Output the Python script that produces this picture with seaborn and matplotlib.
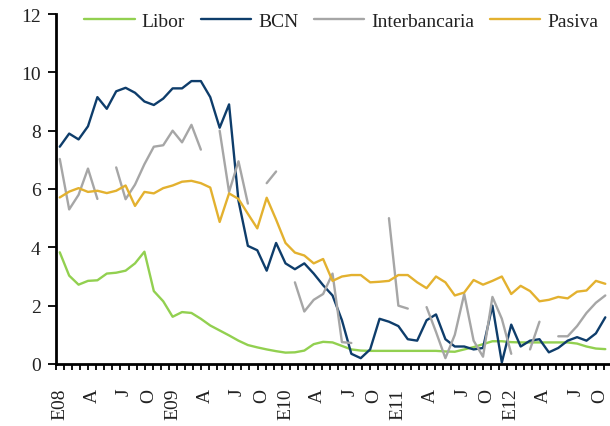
import numpy as np
import pandas as pd
import matplotlib
matplotlib.use("Agg")
import matplotlib.pyplot as plt
from matplotlib.lines import Line2D
import seaborn as sns

# ---------------- data (monthly, Jan 2008 .. Nov 2012) ----------------
months = list(range(59))
nan = np.nan

libor = [3.83, 3.03, 2.72, 2.85, 2.87, 3.10, 3.13, 3.20, 3.45, 3.85,
         2.50, 2.15, 1.62, 1.78, 1.75, 1.55, 1.32, 1.15, 0.98, 0.80,
         0.65, 0.57, 0.50, 0.44, 0.39, 0.40, 0.46, 0.68, 0.76, 0.74,
         0.62, 0.50, 0.46, 0.45, 0.45, 0.45, 0.45, 0.45, 0.45, 0.45,
         0.45, 0.43, 0.42, 0.50, 0.58, 0.68, 0.78, 0.78, 0.75, 0.74,
         0.74, 0.74, 0.74, 0.74, 0.74, 0.70, 0.60, 0.53, 0.51]

bcn = [7.45, 7.90, 7.70, 8.15, 9.15, 8.75, 9.35, 9.47, 9.30, 9.00,
       8.88, 9.10, 9.45, 9.45, 9.70, 9.70, 9.15, 8.10, 8.90, 5.60,
       4.05, 3.90, 3.20, 4.15, 3.45, 3.25, 3.45, 3.10, 2.70, 2.35,
       1.50, 0.35, 0.20, 0.50, 1.55, 1.45, 1.30, 0.85, 0.80, 1.50,
       1.70, 0.85, 0.60, 0.60, 0.50, 0.55, 2.00, 0.05, 1.35, 0.60,
       0.80, 0.85, 0.40, 0.55, 0.80, 0.92, 0.80, 1.05, 1.60]

interbancaria = [7.03, 5.30, 5.80, 6.70, 5.66, nan, 6.74, 5.65, 6.15, 6.85,
                 7.45, 7.50, 8.00, 7.60, 8.20, 7.35, nan, 8.00, 5.90, 6.95,
                 5.50, nan, 6.20, 6.60, nan, 2.80, 1.80, 2.20, 2.40, 3.10,
                 0.75, 0.72, nan, nan, nan, 5.00, 2.00, 1.90, nan, 1.95,
                 1.10, 0.20, 1.00, 2.40, 0.80, 0.25, 2.30, 1.55, 0.35, nan,
                 0.50, 1.45, nan, 0.95, 0.95, 1.30, 1.75, 2.10, 2.35]

pasiva = [5.71, 5.91, 6.03, 5.90, 5.94, 5.86, 5.94, 6.12, 5.42, 5.90,
          5.85, 6.03, 6.12, 6.25, 6.28, 6.20, 6.05, 4.87, 5.85, 5.66,
          5.15, 4.65, 5.70, 4.95, 4.15, 3.82, 3.72, 3.45, 3.60, 2.85,
          3.00, 3.05, 3.05, 2.80, 2.82, 2.85, 3.05, 3.05, 2.80, 2.60,
          3.00, 2.80, 2.35, 2.45, 2.88, 2.72, 2.85, 3.00, 2.40, 2.68,
          2.50, 2.15, 2.20, 2.30, 2.25, 2.48, 2.52, 2.85, 2.75]

series_names = ["Libor", "BCN", "Interbancaria", "Pasiva"]
series_colors = ["#92D050", "#0E3D6B", "#A6A6A6", "#E3B12F"]

year_labels = ["E08", "E09", "E10", "E11", "E12"]
quarter_labels = ["A", "J", "O"]
# label positions inside each year (reference axis has 14 category slots/year)
label_slots = [0, 4, 8, 11]

# ---------------- build long table with gap-aware segments ----------------
rows = []
for name, vals in zip(series_names, [libor, bcn, interbancaria, pasiva]):
    seg = 0
    prev_nan = True
    for m, v in zip(months, vals):
        if np.isnan(v):
            prev_nan = True
            continue
        if prev_nan:
            seg += 1
        prev_nan = False
        rows.append({"mes": m, "valor": v, "serie": name, "tramo": f"{name}-{seg}"})
df = pd.DataFrame(rows)

sns.set_theme(style="white")
plt.rcParams["font.family"] = ["Liberation Serif", "DejaVu Serif"]

fig = plt.figure(figsize=(6.10, 4.27), dpi=100)
ax = fig.add_axes([56 / 610, 62 / 427, (610 - 56) / 610, 350 / 427])

palette = dict(zip(series_names, series_colors))
sns.lineplot(data=df, x="mes", y="valor", hue="serie", units="tramo",
             estimator=None, hue_order=series_names, palette=palette,
             linewidth=1.7, legend=False, ax=ax, sort=True)

ax.set_xlim(-0.4, 58.5)
ax.set_ylim(0, 12)
ax.set_xlabel("")
ax.set_ylabel("")

# x ticks
xt, xl = [], []
for yi, yl in enumerate(year_labels):
    for k, slot in enumerate(label_slots):
        xt.append(yi * 12 + slot * 12 / 14)
        xl.append(yl if k == 0 else quarter_labels[k - 1])
ax.set_xticks(xt)
ax.set_xticklabels(xl, rotation=90, fontsize=14, color="#222222")
ax.set_xticks(np.arange(-0.4, 58.5, 12 / 14), minor=True)
ax.tick_params(axis="x", which="both", direction="out", length=4, width=1.3,
               color="black", bottom=True, pad=17)
ax.tick_params(axis="x", which="major", length=0)

ax.set_yticks(range(0, 13, 2))
ax.set_yticklabels([str(v) for v in range(0, 13, 2)], fontsize=14, color="#222222")
ax.tick_params(axis="y", direction="out", length=6, width=1.3, color="black",
               left=True, pad=5)

for s in ["top", "right"]:
    ax.spines[s].set_visible(False)
for s in ["left", "bottom"]:
    ax.spines[s].set_color("black")
    ax.spines[s].set_linewidth(2)
ax.grid(False)

handles = [Line2D([], [], color=c, lw=1.7) for c in series_colors]
ax.legend(handles, series_names, loc="center", bbox_to_anchor=(0.515, 0.98),
          ncol=4, frameon=False, handlelength=2.6, handletextpad=0.35,
          columnspacing=0.8, fontsize=14, labelcolor="#222222")

fig.savefig("out.png", dpi=100)
